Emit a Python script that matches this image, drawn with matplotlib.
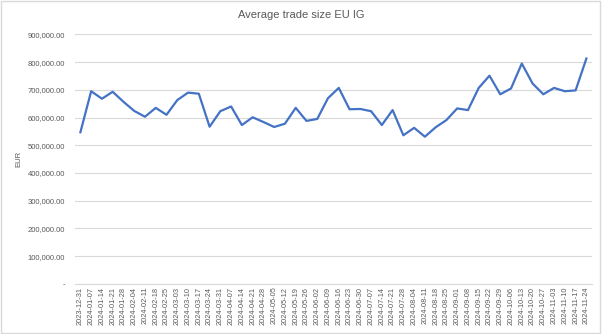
"""Average trade size EU IG: weekly line chart, Excel-style."""
import matplotlib
matplotlib.use("Agg")
import matplotlib.pyplot as plt
from matplotlib.patches import Rectangle
from matplotlib.ticker import FuncFormatter, MultipleLocator
import numpy as np

plt.rcParams["font.family"] = ["Liberation Sans", "DejaVu Sans"]

WEEKS = [
    "2023-12-31", "2024-01-07", "2024-01-14", "2024-01-21", "2024-01-28",
    "2024-02-04", "2024-02-11", "2024-02-18", "2024-02-25", "2024-03-03",
    "2024-03-10", "2024-03-17", "2024-03-24", "2024-03-31", "2024-04-07",
    "2024-04-14", "2024-04-21", "2024-04-28", "2024-05-05", "2024-05-12",
    "2024-05-19", "2024-05-26", "2024-06-02", "2024-06-09", "2024-06-16",
    "2024-06-23", "2024-06-30", "2024-07-07", "2024-07-14", "2024-07-21",
    "2024-07-28", "2024-08-04", "2024-08-11", "2024-08-18", "2024-08-25",
    "2024-09-01", "2024-09-08", "2024-09-15", "2024-09-22", "2024-09-29",
    "2024-10-06", "2024-10-13", "2024-10-20", "2024-10-27", "2024-11-03",
    "2024-11-10", "2024-11-17", "2024-11-24",
]
# average trade size, EUR
AVG_SIZE = [
    547000, 695000, 668000, 693000, 657000, 624000, 603000, 635000,
    610000, 663000, 690000, 686000, 567000, 623000, 640000, 573000,
    601000, 584000, 566000, 578000, 635000, 588000, 595000, 670000,
    707000, 630000, 631000, 623000, 573000, 627000, 536000, 563000,
    531000, 565000, 591000, 633000, 627000, 707000, 751000, 684000,
    705000, 795000, 723000, 684000, 707000, 695000, 698000, 813000,
]

GREY_TEXT = "#595959"
GRID = "#D9D9D9"
BLUE = "#4472C4"


def fmt_eur(v, _pos):
    if abs(v) < 1e-6:
        return "-"
    return f"{v:,.2f}"


fig = plt.figure(figsize=(6.02, 3.34), dpi=100)
fig.patches.append(Rectangle((0.002, 0.003), 0.995, 0.994, transform=fig.transFigure,
                             fill=False, edgecolor=GRID, linewidth=1.0))
ax = fig.add_axes([0.1246, 0.150, 0.8584, 0.747])

x = np.arange(len(WEEKS))
ax.plot(x, AVG_SIZE, color=BLUE, linewidth=1.6, solid_joinstyle="round")

ax.set_xlim(-0.5, len(WEEKS) - 0.5)
ax.set_ylim(0, 900000)
ax.yaxis.set_major_locator(MultipleLocator(100000))
ax.yaxis.set_major_formatter(FuncFormatter(fmt_eur))
ax.grid(axis="y", color=GRID, linewidth=0.8)
ax.set_axisbelow(True)

ax.set_xticks(x)
ax.set_xticklabels(WEEKS, rotation=90, fontsize=5.3, color=GREY_TEXT)
ax.tick_params(axis="x", length=0, pad=2)
ax.tick_params(axis="y", length=0, pad=7, labelsize=5.5, labelcolor=GREY_TEXT)

for side in ("top", "right", "left"):
    ax.spines[side].set_visible(False)
ax.spines["bottom"].set_color(GRID)
ax.spines["bottom"].set_linewidth(0.8)

ax.set_ylabel("EUR", fontsize=5.5, color=GREY_TEXT, labelpad=4)
fig.text(0.5, 0.955, "Average trade size EU IG", ha="center", va="center",
         fontsize=8, color=GREY_TEXT)

fig.savefig("out.png", dpi=100)
